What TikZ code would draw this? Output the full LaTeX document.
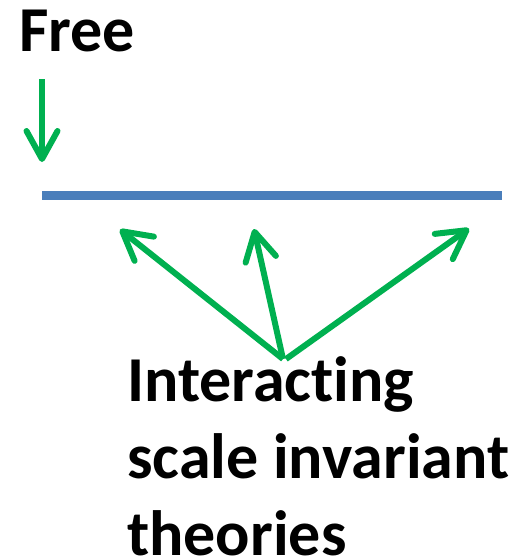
\documentclass[tikz,border=0pt]{standalone}
\usepackage{fontspec}
\setmainfont{Carlito}[Ligatures={NoCommon,NoDiscretionary,NoRare}]
\usetikzlibrary{arrows.meta}
\definecolor{lineblue}{HTML}{4A7EBB}
\definecolor{arrowgreen}{HTML}{00B050}
\tikzset{
  label text/.style={inner sep=0pt, font=\fontsize{64}{77}\selectfont\bfseries, text=black, align=left},
  greenarrow/.style={draw=arrowgreen, line width=6pt,
    -{Straight Barb[length=28pt, width=31pt, line cap=round, line join=round]}},
}
\begin{document}
\begin{tikzpicture}[x=1pt, y=-1pt]
\path[use as bounding box] (0,0) rectangle (522,557);
% labels
\node[label text, anchor=base west] (free) at (19,51) {Free};
\node[label text, anchor=base west] (inter) at (127,555) {Interacting\\scale invariant\\theories};
% the line
\coordinate (lineL) at (42,195.5);
\coordinate (lineR) at (502,195.5);
\draw[lineblue, line width=9pt] (lineL) -- (lineR);
% arrow from Free
\coordinate (freeStart) at (42,79);
\coordinate (freeTip) at (42,162);
\draw[greenarrow, line cap=butt] (freeStart) -- (freeTip);
% arrows from interacting
\coordinate (src) at (283,359);
\coordinate (tipA) at (120,229.5);
\coordinate (tipB) at (254,229);
\coordinate (tipC) at (469,228.5);
\draw[greenarrow] (src) -- (tipA);
\draw[greenarrow] (src) -- (tipB);
\draw[greenarrow] ([xshift=3pt]src) -- (tipC);
\end{tikzpicture}
\end{document}
